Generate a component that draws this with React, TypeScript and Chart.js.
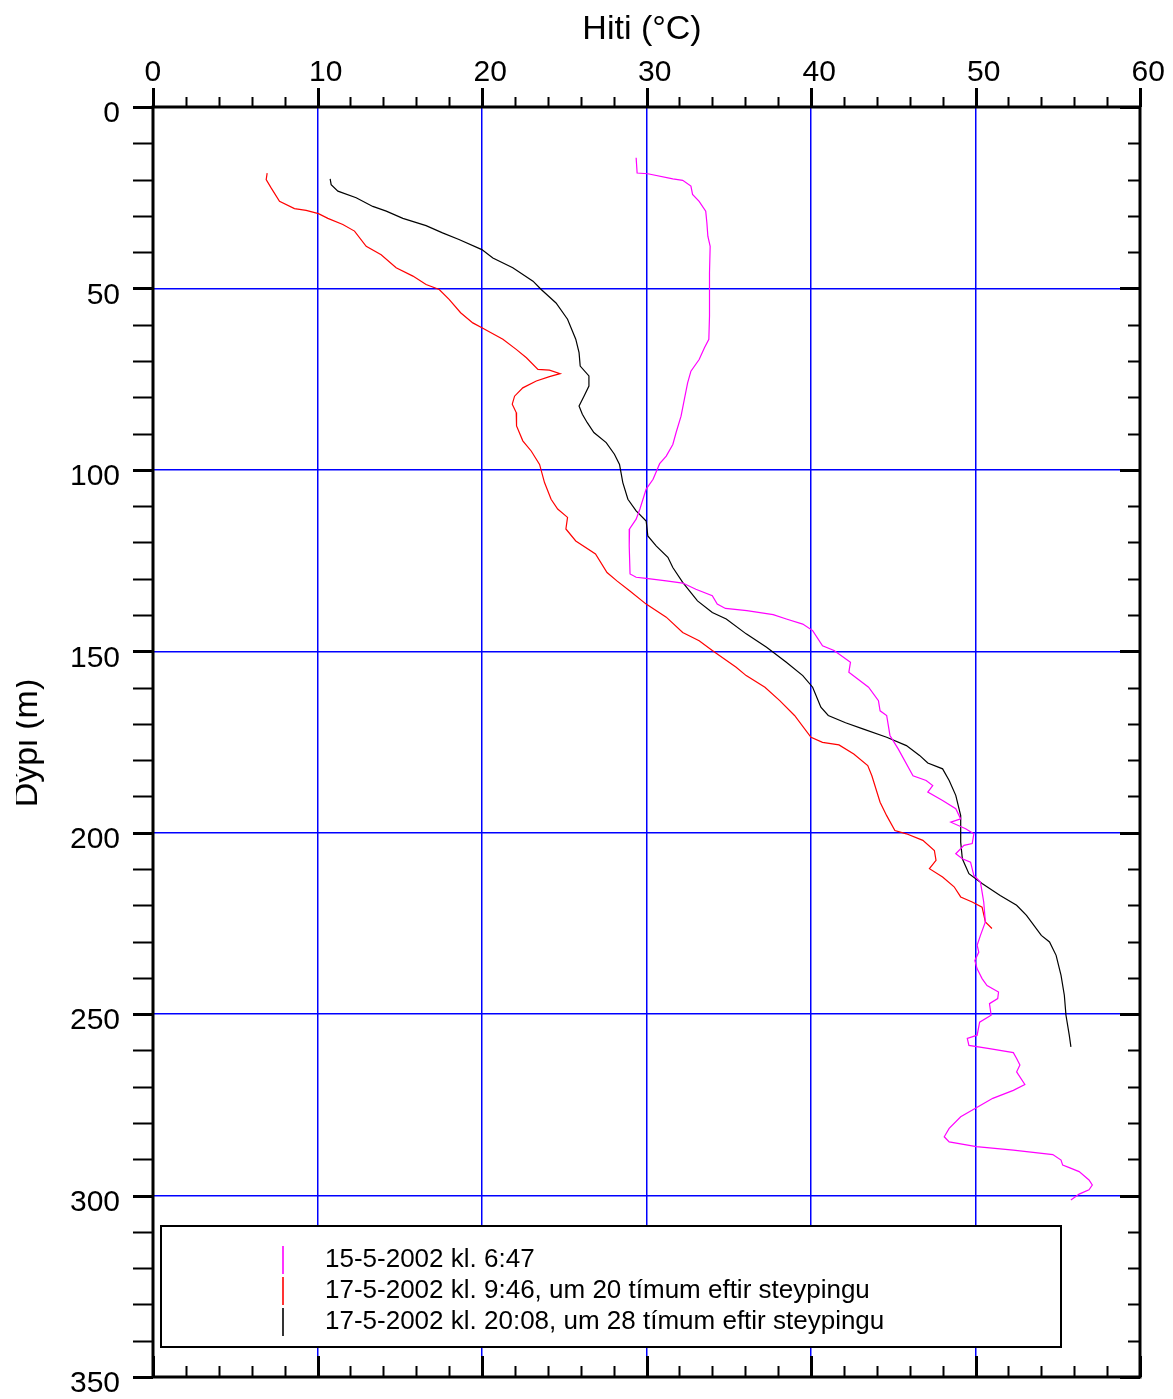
import React, { useEffect, useRef } from "react";
import { Chart, registerables } from "chart.js";

Chart.register(...registerables);

const FONT = '"Liberation Sans", Arial, Helvetica, sans-serif';

// Axis definitions
const xTitle = "Hiti (°C)";
const yTitle = "Dýpi (m)";
const xMin = 0;
const xMax = 60;
const xMajorStep = 10;
const xMinorStep = 2;
const yMin = 0;
const yMax = 350;
const yMajorStep = 50;
const yMinorStep = 10;

// Series labels
const seriesLabels = [
  "15-5-2002 kl. 6:47",
  "17-5-2002 kl. 9:46, um 20 tímum eftir steypingu",
  "17-5-2002 kl. 20:08, um 28 tímum eftir steypingu",
];
const seriesColors = ["#ff00ff", "#ff0000", "#000000"];

// [temperature °C, depth m]
const profile1: [number, number][] = [
  [29.37, 14.0], [29.43, 18.2], [30.08, 18.4], [31.6, 19.8], [32.2, 20.2], [32.7, 21.8],
  [32.8, 24.1], [33.2, 26.0], [33.6, 28.7], [33.67, 31.9], [33.73, 35.6], [33.87, 38.4],
  [33.83, 45.7], [33.83, 50.3], [33.83, 57.6], [33.79, 64.0], [33.53, 66.3], [33.2, 69.6],
  [32.7, 72.8], [32.5, 76.0], [32.3, 80.6], [32.1, 85.2], [31.8, 89.7], [31.6, 93.0],
  [31.2, 96.2], [30.8, 98.3], [30.4, 102.6], [29.98, 105.3], [29.6, 110.8], [29.37, 113.6],
  [28.97, 116.3], [28.95, 121.0], [29.0, 128.7], [29.37, 129.6], [29.98, 129.9], [31.2, 130.6],
  [32.2, 131.2], [33.0, 132.9], [34.0, 134.7], [34.3, 137.0], [34.8, 138.2], [36.1, 138.8],
  [37.7, 139.9], [38.5, 141.1], [39.5, 142.5], [40.1, 144.3], [40.7, 148.5], [41.4, 149.8],
  [42.4, 153.0], [42.3, 155.8], [43.5, 159.9], [44.1, 163.6], [44.2, 166.4], [44.6, 167.7],
  [44.8, 173.2], [45.3, 176.9], [46.2, 184.3], [47.0, 185.6], [47.4, 187.0], [47.1, 188.8],
  [48.0, 191.1], [48.8, 193.4], [49.1, 196.2], [48.5, 197.1], [49.4, 198.9], [49.9, 200.3],
  [49.8, 203.0], [49.3, 203.5], [48.8, 205.8], [49.2, 207.2], [49.7, 208.1], [49.9, 211.8],
  [50.3, 213.6], [50.5, 219.1], [50.6, 224.6], [50.3, 228.3], [50.1, 231.0], [50.2, 232.9],
  [49.96, 235.2], [50.1, 237.5], [50.4, 240.2], [50.7, 242.1], [51.4, 243.9], [51.35, 245.7],
  [50.85, 247.1], [50.95, 250.3], [50.25, 252.2], [50.1, 255.8], [49.5, 256.7], [49.6, 258.6],
  [50.85, 259.5], [52.3, 260.6], [52.5, 262.2], [52.7, 264.0], [52.5, 265.9], [53.0, 269.4],
  [52.3, 271.0], [51.05, 273.2], [50.05, 275.8], [49.1, 278.3], [48.4, 281.5], [48.1, 283.8],
  [48.4, 285.2], [50.05, 286.5], [52.3, 287.5], [54.7, 288.7], [55.2, 290.2], [55.3, 291.6],
  [55.7, 292.3], [56.3, 293.4], [56.9, 295.7], [57.1, 297.1], [56.9, 298.4], [56.3, 299.6],
  [55.8, 301.2],
];

const profile2: [number, number][] = [
  [6.94, 18.2], [6.88, 20.0], [7.18, 22.3], [7.69, 26.0], [8.6, 28.0], [9.31, 28.5],
  [10.06, 29.4], [10.63, 30.7], [11.54, 32.4], [12.25, 34.2], [12.96, 38.4], [13.87, 40.7],
  [14.78, 44.3], [15.8, 46.6], [16.6, 48.9], [17.4, 50.3], [18.0, 53.0], [18.7, 56.7],
  [19.44, 59.5], [20.05, 61.0], [21.27, 64.0], [22.08, 66.8], [22.7, 69.1], [23.4, 72.3],
  [24.1, 72.5], [24.75, 73.5], [24.1, 74.3], [23.3, 75.5], [22.48, 77.4], [21.98, 79.7],
  [21.84, 81.9], [22.08, 84.2], [22.1, 87.9], [22.48, 92.0], [22.99, 94.8], [23.5, 98.5],
  [23.8, 103.5], [24.2, 108.1], [24.6, 110.8], [25.2, 113.1], [25.1, 116.3], [25.7, 119.6],
  [26.9, 123.2], [27.6, 128.3], [28.2, 130.6], [28.97, 133.3], [29.98, 137.0], [31.2, 140.6],
  [32.2, 144.8], [33.2, 147.1], [34.0, 149.8], [35.45, 154.4], [36.06, 156.7], [37.2, 159.9],
  [38.1, 163.6], [39.0, 167.7], [40.0, 173.7], [40.7, 175.1], [41.7, 175.8], [42.6, 178.3],
  [43.45, 181.5], [43.7, 184.3], [44.2, 191.6], [44.6, 195.3], [45.1, 199.4], [45.8, 200.3],
  [46.8, 202.1], [47.5, 204.9], [47.6, 207.6], [47.2, 209.9], [48.0, 212.2], [48.7, 214.9],
  [49.1, 217.7], [49.8, 219.1], [50.4, 220.5], [50.6, 224.6], [51.0, 226.4],
];

const profile3: [number, number][] = [
  [10.77, 19.8], [10.83, 21.4], [11.24, 23.2], [12.35, 25.0], [13.36, 27.4], [14.18, 28.7],
  [15.19, 30.7], [16.6, 32.7], [17.6, 34.7], [18.6, 36.5], [19.99, 39.3], [20.66, 41.6],
  [21.87, 44.3], [23.1, 48.0], [23.6, 50.3], [24.5, 54.0], [25.2, 58.5], [25.7, 64.0],
  [25.9, 67.7], [25.97, 71.4], [26.5, 74.1], [26.5, 76.9], [26.2, 79.7], [25.9, 82.4],
  [26.1, 84.7], [26.4, 87.0], [26.8, 89.7], [27.55, 92.5], [28.05, 95.7], [28.36, 98.5],
  [28.56, 103.5], [28.87, 108.1], [29.37, 111.3], [29.98, 114.1], [30.08, 118.2], [30.6, 121.0],
  [31.3, 124.1], [31.6, 126.9], [32.2, 131.0], [33.1, 136.1], [34.0, 139.3], [34.85, 141.1],
  [36.06, 145.2], [37.3, 148.9], [38.5, 153.0], [39.5, 156.7], [40.1, 159.9], [40.6, 165.4],
  [41.05, 167.7], [42.1, 169.7], [43.15, 171.4], [44.6, 173.7], [45.8, 176.0], [46.6, 178.7],
  [47.1, 180.8], [48.0, 182.4], [48.4, 185.6], [48.8, 189.7], [49.1, 195.3], [49.1, 202.6],
  [49.2, 207.2], [49.6, 211.3], [50.4, 214.0], [51.5, 217.3], [52.5, 220.0], [53.1, 222.8],
  [54.0, 228.3], [54.5, 230.1], [54.9, 233.8], [55.2, 239.3], [55.4, 244.8], [55.5, 250.3],
  [55.7, 255.8], [55.8, 259.0],
];

const profiles = [profile1, profile2, profile3];

const zeroPadding = (s: any) => {
  s.paddingLeft = 0;
  s.paddingRight = 0;
  s.paddingTop = 0;
  s.paddingBottom = 0;
};

const decorPlugin = {
  id: "decor",
  afterDatasetsDraw(chart: any) {
    const { ctx } = chart;
    // legend box
    const bx = 161, by = 1226, bw = 900, bh = 121;
    ctx.save();
    ctx.fillStyle = "#ffffff";
    ctx.fillRect(bx, by, bw, bh);
    ctx.strokeStyle = "#000";
    ctx.lineWidth = 2;
    ctx.strokeRect(bx, by, bw, bh);
    ctx.font = `26px ${FONT}`;
    ctx.textBaseline = "middle";
    ctx.textAlign = "left";
    chart.data.datasets.forEach((ds: any, i: number) => {
      const cy = 1260 + i * 31;
      ctx.strokeStyle = ds.borderColor;
      ctx.lineWidth = 1.6;
      ctx.beginPath();
      ctx.moveTo(283, cy - 14);
      ctx.lineTo(283, cy + 14);
      ctx.stroke();
      ctx.fillStyle = "#000";
      ctx.fillText(ds.label, 325, cy);
    });
    ctx.restore();
  },
  afterDraw(chart: any) {
    const { ctx, chartArea: a, scales } = chart;
    const xs = scales.x;
    const ys = scales.y;
    ctx.save();
    ctx.strokeStyle = "#000";
    for (let v = xMin; v <= xMax; v += xMinorStep) {
      const px = Math.round(xs.getPixelForValue(v)) + 0.5;
      const major = v % xMajorStep === 0;
      ctx.lineWidth = major ? 3 : 2;
      ctx.beginPath();
      ctx.moveTo(px, a.top);
      ctx.lineTo(px, a.top - (major ? 19 : 10));
      ctx.moveTo(px, a.bottom);
      ctx.lineTo(px, a.bottom - (major ? 21 : 11));
      ctx.stroke();
    }
    for (let v = yMin; v <= yMax; v += yMinorStep) {
      const py = Math.round(ys.getPixelForValue(v)) + 0.5;
      const major = v % yMajorStep === 0;
      ctx.lineWidth = major ? 3 : 2;
      ctx.beginPath();
      ctx.moveTo(a.left, py);
      ctx.lineTo(a.left - 20, py);
      ctx.moveTo(a.right, py);
      ctx.lineTo(a.right - (major ? 20 : 12), py);
      ctx.stroke();
    }
    ctx.lineWidth = 3;
    ctx.strokeRect(a.left, a.top, a.right - a.left, a.bottom - a.top);

    // titles
    ctx.fillStyle = "#000";
    ctx.font = `34px ${FONT}`;
    ctx.textAlign = "center";
    ctx.textBaseline = "alphabetic";
    ctx.fillText(xTitle, 642, 39);

    ctx.save();
    ctx.beginPath();
    ctx.rect(16, 0, 200, chart.height);
    ctx.clip();
    ctx.translate(37, 743);
    ctx.rotate(-Math.PI / 2);
    ctx.fillText(yTitle, 0, 0);
    ctx.restore();
    ctx.restore();
  },
};

export default function App() {
  const canvasRef = useRef<HTMLCanvasElement | null>(null);

  useEffect(() => {
    document.body.style.margin = "0";
    const canvas = canvasRef.current;
    if (!canvas) return;
    const chart = new Chart(canvas, {
      type: "scatter",
      data: {
        datasets: profiles.map((p, i) => ({
          label: seriesLabels[i],
          data: p.map(([t, d]) => ({ x: t, y: d })),
          showLine: true,
          borderColor: seriesColors[i],
          backgroundColor: seriesColors[i],
          borderWidth: 1.2,
          pointRadius: 0,
          tension: 0,
        })),
      },
      options: {
        responsive: false,
        animation: false,
        events: [],
        layout: { padding: { top: 0, left: 0, right: 33, bottom: 22 } },
        plugins: {
          legend: { display: false },
          tooltip: { enabled: false },
          title: { display: false },
        },
        scales: {
          x: {
            type: "linear",
            position: "top",
            min: xMin,
            max: xMax,
            ticks: {
              stepSize: xMajorStep,
              color: "#000",
              font: { family: FONT, size: 30 },
              align: "start",
              labelOffset: -8.5,
              padding: 6,
              maxRotation: 0,
              autoSkip: false,
            },
            grid: {
              color: "#0000ff",
              lineWidth: 1.5,
              drawTicks: true,
              tickLength: 10,
              tickColor: "rgba(0,0,0,0)",
            },
            border: { display: false },
            afterFit: (s: any) => {
              s.height = 107;
              zeroPadding(s);
            },
          },
          y: {
            type: "linear",
            position: "left",
            reverse: true,
            min: yMin,
            max: yMax,
            ticks: {
              stepSize: yMajorStep,
              color: "#000",
              font: { family: FONT, size: 30 },
              padding: 13,
              labelOffset: 7,
              autoSkip: false,
            },
            grid: {
              color: "#0000ff",
              lineWidth: 1.5,
              drawTicks: true,
              tickLength: 20,
              tickColor: "rgba(0,0,0,0)",
            },
            border: { display: false },
            afterFit: (s: any) => {
              s.width = 153;
              zeroPadding(s);
            },
          },
        },
      } as any,
      plugins: [decorPlugin],
    });
    return () => chart.destroy();
  }, []);

  return (
    <div style={{ width: 1173, height: 1399, background: "#fff" }}>
      <canvas ref={canvasRef} width={1173} height={1399} style={{ display: "block" }} />
    </div>
  );
}
